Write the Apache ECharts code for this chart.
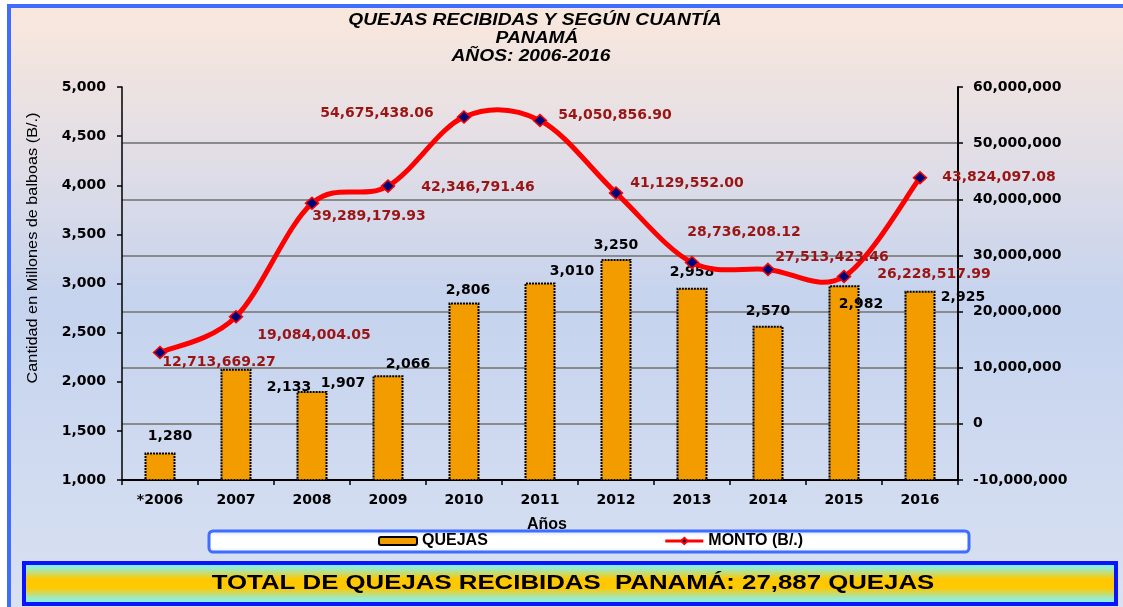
<!DOCTYPE html>
<html>
<head>
<meta charset="utf-8">
<script src="https://cdn.jsdelivr.net/npm/echarts@6/dist/echarts.min.js"></script>
<style>
  html, body { margin: 0; padding: 0; background: #fff; }
  #chart { width: 1123px; height: 607px; }
</style>
</head>
<body>
<div id="chart"></div>
<script>
// ---- data ----
const years = ['*2006', '2007', '2008', '2009', '2010', '2011', '2012', '2013', '2014', '2015', '2016'];
const quejas = [1280, 2133, 1907, 2066, 2806, 3010, 3250, 2958, 2570, 2982, 2925];
const monto = [12713669.27, 19084004.05, 39289179.93, 42346791.46, 54675438.06, 54050856.90,
               41129552.00, 28736208.12, 27513423.46, 26228517.99, 43824097.08];
const leftTicks = [1000, 1500, 2000, 2500, 3000, 3500, 4000, 4500, 5000];
const rightTicks = [-10000000, 0, 10000000, 20000000, 30000000, 40000000, 50000000, 60000000];
const titleLines = ['QUEJAS RECIBIDAS Y SEGÚN CUANTÍA', 'PANAMÁ', 'AÑOS: 2006-2016'];
const yAxisTitle = 'Cantidad en Millones de balboas (B/.)';
const xAxisTitle = 'Años';
const seriesNames = ['QUEJAS', 'MONTO (B/.)'];

// ---- label placement (style only) ----
const barLabelOffsets = [[10, -9], [53, 26], [31, -1], [20, -4], [4, -5], [32, -4], [0, -7], [0, -8], [0, -7], [17, 26], [43, 13]];
const lineLabelOffsets = [[59, 10], [78, 19], [57, 13], [90, 1], [-87, -4], [75, -5], [71, -10], [52, -30], [64, -12], [90, -2], [79, 0]];

const fmtInt = v => Math.round(v).toLocaleString('en-US');
const fmt2 = v => v.toLocaleString('en-US', { minimumFractionDigits: 2, maximumFractionDigits: 2 });
const total = quejas.reduce((a, b) => a + b, 0);

const numFont = '"DejaVu Sans", Verdana, sans-serif';
const txtFont = '"Liberation Sans", Arial, sans-serif';

const chart = echarts.init(document.getElementById('chart'), null, { renderer: 'canvas' });

const centerText = (text, x, y, font, scaleX, extra) => Object.assign({
  type: 'text', x: x, y: y, scaleX: scaleX || 1, silent: true,
  style: { text: text, font: font, fill: '#000', align: 'center', verticalAlign: 'middle',
           textAlign: 'center', textVerticalAlign: 'middle' }
}, extra || {});

// Excel-like smoothed curve through the points (cardinal spline), positions from the axes
function smoothCurve(params, api) {
  if (params.dataIndex !== 0) return null;
  const p = monto.map((v, i) => api.coord([i, v]));
  const n = p.length;
  let d = 'M' + p[0][0] + ' ' + p[0][1];
  for (let i = 0; i < n - 1; i++) {
    const p0 = p[Math.max(i - 1, 0)], p1 = p[i], p2 = p[i + 1], p3 = p[Math.min(i + 2, n - 1)];
    const c1 = [p1[0] + (p2[0] - p0[0]) / 6, p1[1] + (p2[1] - p0[1]) / 6];
    const c2 = [p2[0] - (p3[0] - p1[0]) / 6, p2[1] - (p3[1] - p1[1]) / 6];
    d += ' C' + c1[0] + ' ' + c1[1] + ' ' + c2[0] + ' ' + c2[1] + ' ' + p2[0] + ' ' + p2[1];
  }
  return { type: 'path', shape: { pathData: d }, style: { stroke: '#ff0000', lineWidth: 5, fill: 'none', lineJoin: 'round', lineCap: 'round' } };
}

const option = {
  animation: false,
  backgroundColor: {
    type: 'linear', x: 0, y: 0, x2: 0, y2: 1,
    colorStops: [
      { offset: 0, color: '#fbe8dc' },
      { offset: 0.25, color: '#e2dee6' },
      { offset: 0.5, color: '#c5d3ee' },
      { offset: 1, color: '#d9e1f2' }
    ]
  },
  graphic: [
    { type: 'rect', silent: true, shape: { x: 0, y: 0, width: 1123, height: 4 }, style: { fill: '#fff' } },
    { type: 'rect', silent: true, shape: { x: 0, y: 0, width: 7, height: 607 }, style: { fill: '#fff' } },
    { type: 'rect', silent: true, shape: { x: 7, y: 4, width: 1116, height: 4 }, style: { fill: '#3f6dff' } },
    { type: 'rect', silent: true, shape: { x: 7, y: 4, width: 4, height: 603 }, style: { fill: '#3f6dff' } },
    centerText(titleLines[0], 535, 21, 'italic bold 16px ' + txtFont, 1.2),
    centerText(titleLines[1], 537, 39, 'italic bold 16px ' + txtFont, 1.2),
    centerText(titleLines[2], 531, 57, 'italic bold 16px ' + txtFont, 1.2),
    centerText(yAxisTitle, 33, 248, '14px ' + txtFont, 1.16, { rotation: Math.PI / 2 }),
    {
      type: 'rect', silent: true,
      shape: { x: 209, y: 531, width: 760, height: 21, r: 4 },
      style: {
        fill: { type: 'linear', x: 0, y: 0, x2: 0, y2: 1,
                colorStops: [{ offset: 0, color: '#cfe0ff' }, { offset: 0.3, color: '#ffffff' },
                             { offset: 0.75, color: '#ffffff' }, { offset: 1, color: '#d6e4ff' }] },
        stroke: '#3f6dff', lineWidth: 3
      }
    },
    {
      type: 'rect', silent: true,
      shape: { x: 24, y: 563, width: 1092, height: 41 },
      style: {
        fill: { type: 'linear', x: 0, y: 0, x2: 0, y2: 1,
                colorStops: [{ offset: 0, color: '#6ff5ee' }, { offset: 0.15, color: '#93eed6' },
                             { offset: 0.4, color: '#ffc800' }, { offset: 0.6, color: '#ffc800' },
                             { offset: 0.85, color: '#93eed6' }, { offset: 1, color: '#6ff5ee' }] },
        stroke: '#0a14ff', lineWidth: 4
      }
    },
    centerText('TOTAL DE QUEJAS RECIBIDAS  PANAMÁ: ' + fmtInt(total) + ' QUEJAS', 573, 583,
               'bold 20px ' + txtFont, 1.29)
  ],
  legend: {
    left: 378, top: 533, padding: 0,
    itemWidth: 38, itemHeight: 8, itemGap: 176,
    data: [
      { name: seriesNames[0] },
      { name: seriesNames[1], lineStyle: { color: '#ff0000', width: 3, opacity: 1 } }
    ],
    textStyle: { fontFamily: txtFont, fontWeight: 'bold', fontSize: 16, color: '#000', lineHeight: 16 }
  },
  grid: { left: 122, right: 165, top: 87, bottom: 127, containLabel: false },
  xAxis: {
    type: 'category', data: years,
    axisLine: { onZero: false, lineStyle: { color: '#000', width: 2 } },
    axisTick: { show: true, length: 5, lineStyle: { color: '#000', width: 1.5 } },
    axisLabel: { margin: 13, color: '#000', fontFamily: numFont, fontWeight: 'bold', fontSize: 14 },
    name: xAxisTitle, nameLocation: 'middle', nameGap: 37,
    nameTextStyle: { color: '#000', fontFamily: txtFont, fontWeight: 'bold', fontSize: 16, padding: [0, 0, 0, 14] }
  },
  yAxis: [
    {
      type: 'value', position: 'left',
      min: leftTicks[0], max: leftTicks[leftTicks.length - 1], interval: leftTicks[1] - leftTicks[0],
      axisLine: { show: true, onZero: false, lineStyle: { color: '#000', width: 1.5 } },
      axisTick: { show: true, length: 5, lineStyle: { color: '#000', width: 1.5 } },
      splitLine: { show: false },
      axisLabel: { margin: 16, color: '#000', fontFamily: numFont, fontWeight: 'bold', fontSize: 14, formatter: v => fmtInt(v) }
    },
    {
      type: 'value', position: 'right',
      min: rightTicks[0], max: rightTicks[rightTicks.length - 1], interval: rightTicks[1] - rightTicks[0],
      axisLine: { show: true, onZero: false, lineStyle: { color: '#000', width: 2 } },
      axisTick: { show: true, length: 5, lineStyle: { color: '#000', width: 1.5 } },
      splitLine: { show: true, showMaxLine: false, lineStyle: { color: '#8a8a8a', width: 2 } },
      axisLabel: { margin: 15, color: '#000', fontFamily: numFont, fontWeight: 'bold', fontSize: 14, formatter: v => fmtInt(v) }
    }
  ],
  series: [
    {
      name: seriesNames[0], type: 'bar', yAxisIndex: 0, barWidth: 31, z: 2,
      itemStyle: { color: '#f39c00', borderColor: '#000', borderWidth: 2, borderType: [2, 1] },
      label: {
        show: true, position: 'top', distance: 0, color: '#000',
        fontFamily: numFont, fontWeight: 'bold', fontSize: 14,
        formatter: p => fmtInt(p.value)
      },
      data: quejas.map((v, i) => ({ value: v, label: { offset: barLabelOffsets[i] } }))
    },
    {
      name: 'curve', type: 'custom', yAxisIndex: 1, z: 3, silent: true,
      renderItem: smoothCurve,
      data: monto.map((v, i) => [i, v])
    },
    {
      name: seriesNames[1], type: 'line', yAxisIndex: 1, z: 4,
      symbol: 'diamond', symbolSize: [13, 12],
      lineStyle: { color: '#ff0000', width: 5, opacity: 0 },
      itemStyle: { color: '#00007a', borderColor: '#ff0000', borderWidth: 1.5 },
      label: {
        show: true, position: 'inside', color: '#9b1414',
        fontFamily: numFont, fontWeight: 'bold', fontSize: 14,
        formatter: p => fmt2(p.value)
      },
      data: monto.map((v, i) => ({ value: v, label: { offset: lineLabelOffsets[i] } }))
    }
  ]
};

chart.setOption(option);
</script>
</body>
</html>
